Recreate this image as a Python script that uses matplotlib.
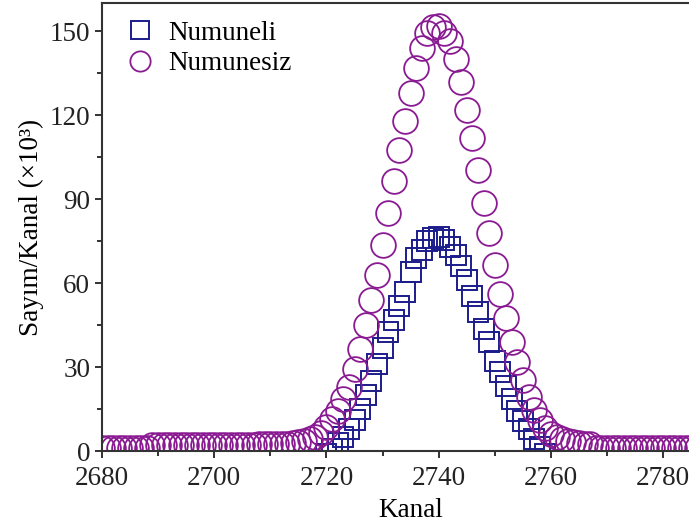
import numpy as np
import matplotlib.pyplot as plt
from matplotlib.ticker import MultipleLocator

plt.rcParams['font.family'] = ['Liberation Serif', 'DejaVu Serif']
plt.rcParams['font.size'] = 19.5

# Numunesiz: kanal 2680-2787
kanal_numunesiz = np.arange(2680, 2788)
sayim_numunesiz = [
    1.3, 1.3, 1.3, 1.3, 1.3, 1.3, 1.3, 1.3, 1.3,
    2.1, 2.1, 2.1, 2.1, 2.1, 2.1, 2.1, 2.1, 2.1, 2.1,
    2.1, 2.1, 2.1, 2.1, 2.1, 2.1, 2.1, 2.1, 2.1,
    2.7, 2.7, 2.7, 2.7, 2.7, 2.7,
    3.0, 3.3, 3.7, 4.3, 5.0, 6.4, 8.7, 11.5, 14.5, 18.5,
    23.0, 29.5, 36.5, 45.0, 54.0, 63.0, 73.6, 85.0, 96.5, 107.5,
    118.0, 128.0, 137.0, 144.0, 149.5, 151.5, 152.0, 149.5, 146.5, 140.0,
    132.0, 122.0, 112.0, 100.4, 88.5, 78.0, 66.4, 56.3, 47.4, 39.0,
    32.0, 25.4, 19.4, 14.6, 11.0, 8.1, 6.3, 5.0, 4.2, 3.6,
    3.2, 2.9, 2.7, 2.5,
    1.0, 1.0, 1.0, 1.0, 1.0, 1.0, 1.0, 1.0, 1.0, 1.0,
    1.0, 1.0, 1.0, 1.0, 1.0, 1.0, 1.0, 1.0, 1.0, 1.0,
]

# Numuneli: kanal 2720-2759
kanal_numuneli = np.arange(2720, 2760)
sayim_numuneli = [
    -1.0, 0.8, 2.8, 5.0, 8.0, 11.0, 15.0, 20.0, 25.0, 31.0,
    37.0, 42.5, 47.0, 52.0, 57.0, 63.9, 69.0, 71.9, 75.2, 76.1,
    76.5, 75.5, 73.0, 70.0, 66.0, 61.3, 55.5, 49.6, 43.6, 38.9,
    32.3, 28.2, 23.4, 18.6, 14.5, 10.9, 7.9, 4.4, 1.5, -1.0,
]

fig = plt.figure(figsize=(6.89, 5.24), dpi=100)
# sag kenar cizim alaninin disinda kalir
ax = fig.add_axes([0.148, 0.139, 0.896, 0.855])

ax.plot(kanal_numuneli, sayim_numuneli, ls='none', marker='s', ms=15,
        mfc='none', mec='#1c1c8c', mew=1.4, label='Numuneli')
ax.plot(kanal_numunesiz, sayim_numunesiz, ls='none', marker='o', ms=17.8,
        mfc='none', mec='#8a1a92', mew=1.3, label='Numunesiz')

ax.set_xlim(2680, 2790)
ax.set_ylim(0, 160)
ax.xaxis.set_major_locator(MultipleLocator(20))
ax.xaxis.set_minor_locator(MultipleLocator(10))
ax.yaxis.set_major_locator(MultipleLocator(30))
ax.yaxis.set_minor_locator(MultipleLocator(15))
ax.tick_params(which='both', direction='out', width=1.3, colors='#222222',
               top=False, right=False)
ax.tick_params(which='major', length=5)
ax.tick_params(which='minor', length=3.5)
ax.tick_params(axis='x', pad=6)
for s in ax.spines.values():
    s.set_linewidth(1.5)
    s.set_color('#333333')

ax.set_xlabel('Kanal', labelpad=5)
ax.set_ylabel('Sayım/Kanal (×10³)', labelpad=4)

ax.legend(loc='upper left', frameon=False, markerscale=0.82,
          handletextpad=0.3, labelspacing=0.2, borderaxespad=0.25,
          handlelength=1.5)

fig.savefig('out.png', dpi=100)
